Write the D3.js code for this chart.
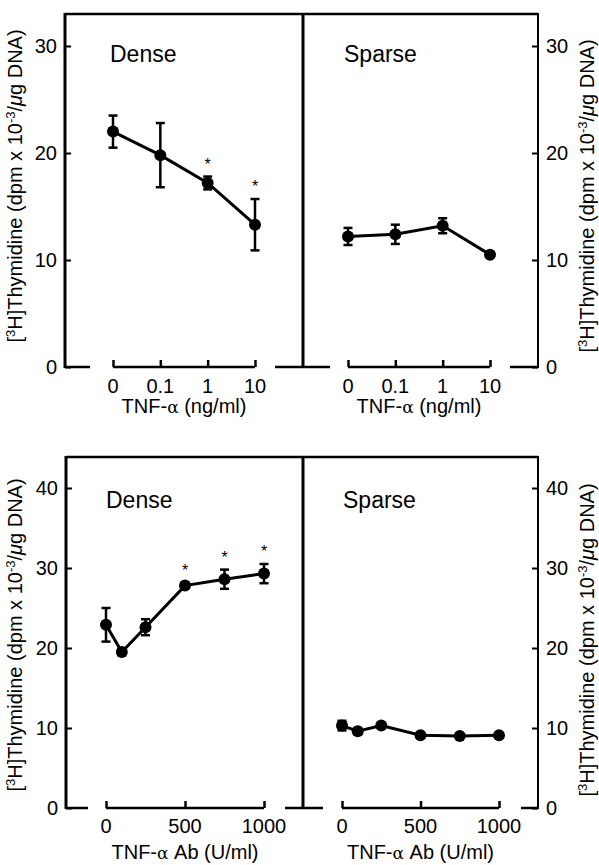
<!DOCTYPE html>
<html>
<head>
<meta charset="utf-8">
<script src="https://cdn.jsdelivr.net/npm/d3@7"></script>
<style>
  body { margin: 0; background: #fff; }
  svg { display: block; font-family: "Liberation Sans", Arial, Helvetica, sans-serif; }
</style>
</head>
<body>
<div id="chart"></div>
<script>
// TNF-alpha dose (top row)
const tnfDoses = ["0", "0.1", "1", "10"];
const tnfDenseMean = [22.0, 19.8, 17.2, 13.3];
const tnfDenseErr = [1.5, 3.0, 0.6, 2.4];
const tnfDenseStar = [false, false, true, true];
const tnfSparseMean = [12.2, 12.4, 13.2, 10.5];
const tnfSparseErr = [0.8, 0.9, 0.7, 0.2];
const tnfSparseStar = [false, false, false, false];
const tnfTicks = [0, 10, 20, 30];

// TNF-alpha antibody dose (bottom row)
const abDoses = [0, 100, 250, 500, 750, 1000];
const abDenseMean = [22.9, 19.5, 22.6, 27.8, 28.6, 29.3];
const abDenseErr = [2.1, 0.4, 1.0, 0.3, 1.2, 1.2];
const abDenseStar = [false, false, false, true, true, true];
const abSparseMean = [10.3, 9.6, 10.3, 9.1, 9.0, 9.1];
const abSparseErr = [0.6, 0.4, 0.2, 0.1, 0.1, 0.1];
const abSparseStar = [false, false, false, false, false, false];
const abTicks = [0, 10, 20, 30, 40];
const abXTicks = [0, 500, 1000];

const width = 599, height = 865;
const fontSize = 20;

const svg = d3.select("#chart").append("svg")
  .attr("width", width)
  .attr("height", height);

const yTitleHtml = (g, x, y) => {
  let t = g.append("text")
    .attr("transform", `translate(${x},${y}) rotate(-90)`)
    .attr("text-anchor", "middle")
    .attr("font-size", fontSize);
  t.append("tspan").text("[");
  t.append("tspan").attr("baseline-shift", "super").attr("font-size", 13).text("3");
  t.append("tspan").text("H]Thymidine (dpm x 10");
  t.append("tspan").attr("baseline-shift", "super").attr("font-size", 13).text("-3");
  t.append("tspan").text("/");
  t.append("tspan").attr("font-style", "italic").text("μ");
  t.append("tspan").text("g DNA)");
};

// draws one row: two panels sharing a y scale
function drawRow(cfg) {
  let g = svg.append("g");
  let y = d3.scaleLinear().domain([0, cfg.yMax]).range([cfg.y0, cfg.yTop]);

  // frame: top line, left axis, divider, right axis
  g.append("line").attr("x1", cfg.left).attr("x2", cfg.right)
    .attr("y1", cfg.frameTop).attr("y2", cfg.frameTop)
    .attr("stroke", "#000").attr("stroke-width", 2.5);
  g.append("line").attr("x1", cfg.left).attr("x2", cfg.left)
    .attr("y1", cfg.frameTop - 1).attr("y2", cfg.y0 + 1)
    .attr("stroke", "#000").attr("stroke-width", 3);
  g.append("line").attr("x1", cfg.mid).attr("x2", cfg.mid)
    .attr("y1", cfg.frameTop).attr("y2", cfg.y0 + 1)
    .attr("stroke", "#000").attr("stroke-width", 3);
  g.append("line").attr("x1", cfg.right).attr("x2", cfg.right)
    .attr("y1", cfg.frameTop - 1).attr("y2", cfg.y0 + 1)
    .attr("stroke", "#000").attr("stroke-width", 2);

  // y ticks (inward) and labels
  let leftAxis = d3.axisRight(y).tickValues(cfg.yTicks).tickSize(6).tickFormat("");
  g.append("g").attr("transform", `translate(${cfg.left},0)`).call(leftAxis)
    .call(a => a.select(".domain").remove())
    .selectAll("line").attr("stroke-width", 2);
  let rightAxis = d3.axisLeft(y).tickValues(cfg.yTicks).tickSize(6).tickFormat("");
  g.append("g").attr("transform", `translate(${cfg.right},0)`).call(rightAxis)
    .call(a => a.select(".domain").remove())
    .selectAll("line").attr("stroke-width", 2);

  g.selectAll(".ylab-l").data(cfg.yTicks).enter().append("text")
    .attr("x", cfg.left - 8).attr("y", d => y(d) + 7)
    .attr("text-anchor", "end").attr("font-size", fontSize).text(d => d);
  g.selectAll(".ylab-r").data(cfg.yTicks).enter().append("text")
    .attr("x", cfg.right + 8).attr("y", d => y(d) + 7)
    .attr("text-anchor", "start").attr("font-size", fontSize).text(d => d);

  yTitleHtml(g, 22, cfg.titleYLeft);
  yTitleHtml(g, 594, cfg.titleYRight);

  cfg.panels.forEach(p => {
    let x = p.x;
    let xr = x.range();
    let edgeL = p.edgeL, edgeR = p.edgeR;

    // bottom frame pieces either side of the offset axis
    g.append("line").attr("x1", edgeL).attr("x2", xr[0] - p.gapL)
      .attr("y1", cfg.y0).attr("y2", cfg.y0)
      .attr("stroke", "#000").attr("stroke-width", 2.5);
    g.append("line").attr("x1", xr[1] + p.gapR).attr("x2", edgeR)
      .attr("y1", cfg.y0).attr("y2", cfg.y0)
      .attr("stroke", "#000").attr("stroke-width", 2.5);

    // x axis with upward ticks
    let xAxis = d3.axisTop(x).tickSize(6).tickFormat("");
    if (p.xTicks) xAxis.tickValues(p.xTicks);
    let ax = g.append("g").attr("transform", `translate(0,${cfg.y0})`).call(xAxis);
    ax.select(".domain").attr("stroke-width", 2.5).attr("d", `M${xr[0]},0H${xr[1]}`);
    ax.selectAll(".tick line").attr("stroke-width", 2.5).attr("y2", -7);

    let tickVals = p.xTicks || x.domain();
    g.selectAll(null).data(tickVals).enter().append("text")
      .attr("x", d => x(d)).attr("y", cfg.xLabY)
      .attr("text-anchor", "middle").attr("font-size", fontSize).text(d => d);

    let xt = g.append("text").attr("x", (xr[0] + xr[1]) / 2).attr("y", cfg.xTitleY)
      .attr("text-anchor", "middle").attr("font-size", fontSize);
    xt.append("tspan").text("TNF-");
    xt.append("tspan").attr("font-family", "DejaVu Serif, serif").attr("font-size", 17).text("α");
    xt.append("tspan").text(cfg.xTitleRest);

    // panel label
    g.append("text").attr("x", p.labelX).attr("y", cfg.labelY)
      .attr("font-size", 23).text(p.label);

    let pts = p.doses.map((d, i) => ({dose: d, mean: p.mean[i], err: p.err[i], star: p.star[i]}));

    // connecting line
    let line = d3.line().x(d => x(d.dose)).y(d => y(d.mean));
    g.append("path").datum(pts).attr("d", line)
      .attr("fill", "none").attr("stroke", "#000").attr("stroke-width", 3);

    // error bars
    let eb = g.selectAll(null).data(pts.filter(d => d.err > 0.15)).enter().append("g");
    eb.append("line")
      .attr("x1", d => x(d.dose)).attr("x2", d => x(d.dose))
      .attr("y1", d => y(d.mean - d.err)).attr("y2", d => y(d.mean + d.err))
      .attr("stroke", "#000").attr("stroke-width", 2.5);
    [-1, 1].forEach(s => {
      eb.append("line")
        .attr("x1", d => x(d.dose) - 4.5).attr("x2", d => x(d.dose) + 4.5)
        .attr("y1", d => y(d.mean + s * d.err)).attr("y2", d => y(d.mean + s * d.err))
        .attr("stroke", "#000").attr("stroke-width", 2.5);
    });

    // markers
    g.selectAll(null).data(pts).enter().append("circle")
      .attr("cx", d => x(d.dose)).attr("cy", d => y(d.mean))
      .attr("r", 6).attr("fill", "#000");

    // significance stars
    g.selectAll(null).data(pts.filter(d => d.star)).enter().append("text")
      .attr("x", d => x(d.dose)).attr("y", d => y(d.mean + d.err) - 7)
      .attr("text-anchor", "middle").attr("font-size", 16).text("*");
  });
}

drawRow({
  yMax: 30, y0: 367, yTop: 46, frameTop: 14,
  left: 65, mid: 303, right: 538,
  yTicks: tnfTicks,
  titleYLeft: 186, titleYRight: 196,
  xLabY: 393, xTitleY: 413, xTitleRest: " (ng/ml)",
  labelY: 62,
  panels: [
    {x: d3.scalePoint().domain(tnfDoses).range([113, 255]), doses: tnfDoses,
     mean: tnfDenseMean, err: tnfDenseErr, star: tnfDenseStar,
     edgeL: 65, edgeR: 303, gapL: 23, gapR: 20, label: "Dense", labelX: 110},
    {x: d3.scalePoint().domain(tnfDoses).range([348, 490]), doses: tnfDoses,
     mean: tnfSparseMean, err: tnfSparseErr, star: tnfSparseStar,
     edgeL: 303, edgeR: 538, gapL: 18, gapR: 20, label: "Sparse", labelX: 344}
  ]
});

drawRow({
  yMax: 40, y0: 808, yTop: 488, frameTop: 457,
  left: 66, mid: 303, right: 538,
  yTicks: abTicks,
  titleYLeft: 635, titleYRight: 640,
  xLabY: 833, xTitleY: 859, xTitleRest: " Ab (U/ml)",
  labelY: 508,
  panels: [
    {x: d3.scaleLinear().domain([0, 1000]).range([106, 264]), xTicks: abXTicks, doses: abDoses,
     mean: abDenseMean, err: abDenseErr, star: abDenseStar,
     edgeL: 66, edgeR: 303, gapL: 18, gapR: 21, label: "Dense", labelX: 106},
    {x: d3.scaleLinear().domain([0, 1000]).range([342, 499]), xTicks: abXTicks, doses: abDoses,
     mean: abSparseMean, err: abSparseErr, star: abSparseStar,
     edgeL: 303, edgeR: 538, gapL: 19, gapR: 22, label: "Sparse", labelX: 343}
  ]
});
</script>
</body>
</html>
